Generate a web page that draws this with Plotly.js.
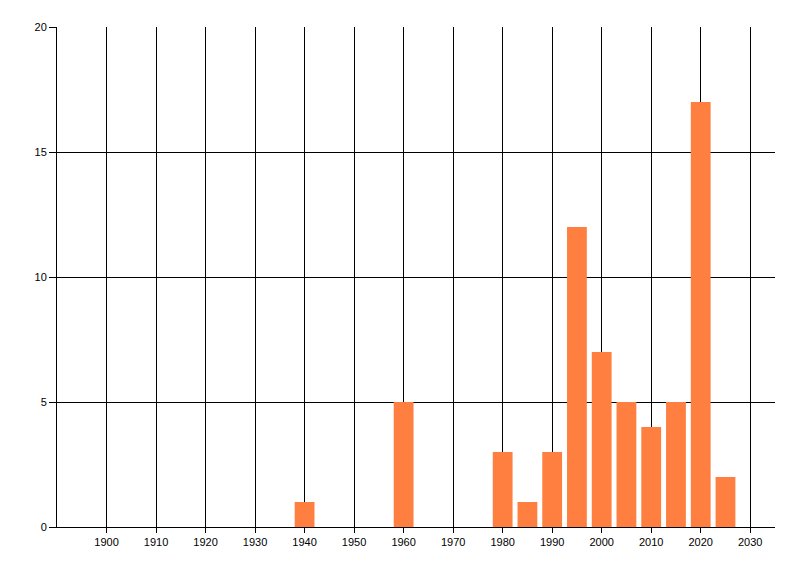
<!DOCTYPE html>
<html>
<head>
<meta charset="utf-8">
<script src="https://cdn.plot.ly/plotly-3.0.1.min.js"></script>
<style>html,body{margin:0;padding:0;background:#fff;}#chart{width:800px;height:576px;}</style>
</head>
<body>
<div id="chart"></div>
<script>
const years = [1940, 1960, 1980, 1985, 1990, 1995, 2000, 2005, 2010, 2015, 2020, 2025];
const counts = [1, 5, 3, 1, 3, 12, 7, 5, 4, 5, 17, 2];
const xTicks = [1900, 1910, 1920, 1930, 1940, 1950, 1960, 1970, 1980, 1990, 2000, 2010, 2020, 2030];
const yTicks = [0, 5, 10, 15, 20];

const trace = {
  type: 'bar',
  x: years,
  y: counts,
  width: 4,
  marker: {color: '#FF7F40', line: {width: 0}},
  hoverinfo: 'x+y'
};

const layout = {
  width: 800,
  height: 576,
  margin: {l: 57, r: 25, t: 27, b: 49},
  paper_bgcolor: '#ffffff',
  plot_bgcolor: '#ffffff',
  showlegend: false,
  font: {family: 'Liberation Sans, Arial, sans-serif', size: 11, color: '#000000'},
  xaxis: {
    range: [1890, 2035],
    tickmode: 'array',
    tickvals: xTicks,
    ticktext: xTicks.map(String),
    showgrid: true,
    gridcolor: '#000000',
    gridwidth: 1,
    zeroline: false,
    showline: true,
    linecolor: '#000000',
    linewidth: 1,
    ticks: 'outside',
    ticklen: 5,
    tickcolor: '#000000',
    tickfont: {size: 11, color: '#000000'}
  },
  yaxis: {
    range: [0, 20],
    tickmode: 'array',
    tickvals: yTicks,
    ticktext: yTicks.map(String),
    showgrid: true,
    gridcolor: '#000000',
    gridwidth: 1,
    zeroline: false,
    showline: true,
    linecolor: '#000000',
    linewidth: 1,
    ticks: 'outside',
    ticklen: 7,
    tickcolor: '#000000',
    tickfont: {size: 11, color: '#000000'}
  }
};

Plotly.newPlot('chart', [trace], layout, {displayModeBar: false, staticPlot: true});
</script>
</body>
</html>
